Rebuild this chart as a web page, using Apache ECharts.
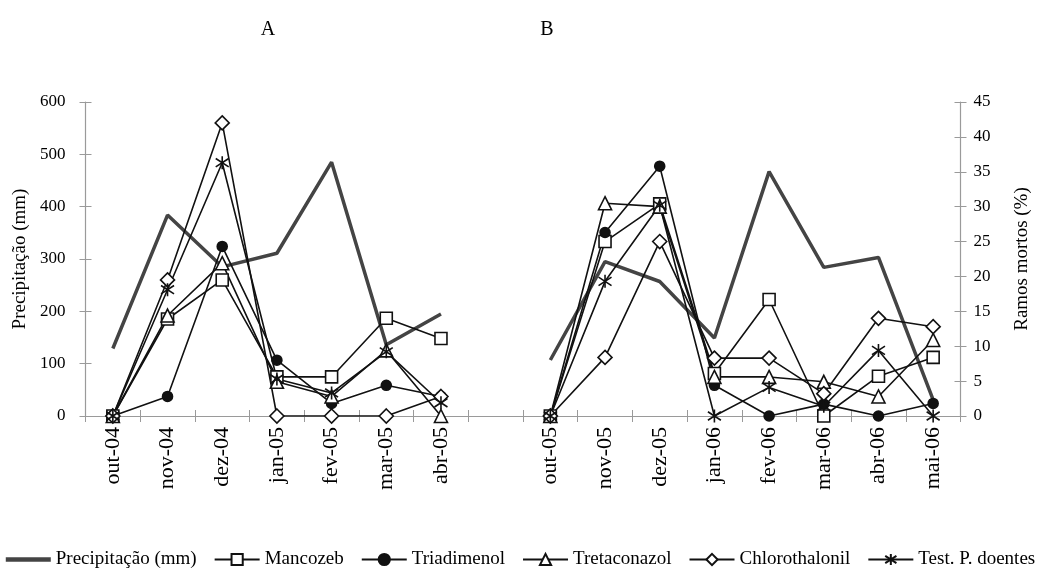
<!DOCTYPE html>
<html>
<head>
<meta charset="utf-8">
<script src="https://cdn.jsdelivr.net/npm/echarts@6/dist/echarts.min.js"></script>
<style>
html,body{margin:0;padding:0;background:#fff;}
#chart{width:1041px;height:569px;}
</style>
</head>
<body>
<div id="chart"></div>
<script>
// Categories (empty string = gap between panel A and panel B)
const categories = ['out-04','nov-04','dez-04','jan-05','fev-05','mar-05','abr-05','',
  'out-05','nov-05','dez-05','jan-06','fev-06','mar-06','abr-06','mai-06'];

// Left axis: Precipitação (mm)
const precipitacao = [129,384,285,311,485,136,195,null, 107,295,257,149,467,284,303,31];
// Right axis: Ramos mortos (%)
const mancozeb      = [0,13.9,19.5,5.6,5.6,14.0,11.1,null, 0,25.0,30.4,6.1,16.7,0,5.7,8.4];
const triadimenol   = [0,2.8,24.3,8.0,1.8,4.4,2.8,null, 0,26.3,35.8,4.4,0,1.7,0,1.8];
const tretaconazol  = [0,14.4,21.9,4.9,2.8,9.4,0,null, 0,30.5,30.0,5.6,5.6,4.9,2.8,10.9];
const chlorothalonil= [0,19.5,42.0,0,0,0,2.8,null, 0,8.4,25.0,8.3,8.3,3.2,14.0,12.8];
const testemunha    = [0,18.1,36.3,5.3,3.3,9.2,1.9,null, 0,19.3,30.2,0,4.1,1.4,9.4,0];

const leftTicks = {min:0, max:600, interval:100};
const rightTicks = {min:0, max:45, interval:5};

const FONT = "'Liberation Serif','DejaVu Serif',serif";
const AX = '#9a9a9a';

const chart = echarts.init(document.getElementById('chart'));

function pctSeries(name, data, symbol, size, filled) {
  return {
    name, type:'line', xAxisIndex:0, yAxisIndex:1, data,
    symbol, symbolSize:size, showAllSymbol:true, connectNulls:false,
    lineStyle:{color:'#111', width:1.6},
    itemStyle:{color: filled ? '#111' : '#fff', borderColor:'#111', borderWidth:1.6},
    emphasis:{disabled:true}, z:3
  };
}

const asterisk = 'path://M10,0L10,20M2.5,3.5L17.5,16.5M2.5,16.5L17.5,3.5';

chart.setOption({
  animation:false,
  backgroundColor:'#fff',
  textStyle:{fontFamily:FONT, color:'#000'},
  graphic:[
    {type:'text', x:268, y:30, style:{text:'A', font:"20px 'Liberation Serif',serif", fill:'#000', textAlign:'center', textVerticalAlign:'middle'}},
    {type:'text', x:547, y:30, style:{text:'B', font:"20px 'Liberation Serif',serif", fill:'#000', textAlign:'center', textVerticalAlign:'middle'}}
  ],
  grid:{left:85.5, right:80.5, top:102, bottom:153},
  legend:{
    top:545, left:'center', itemWidth:45, itemHeight:14, itemGap:17,
    textStyle:{fontFamily:FONT, fontSize:19, color:'#000'},
    data:[
      {name:'Precipitação (mm)', icon:'path://M0,0L40,0L40,4L0,4Z', itemStyle:{color:'#444'}},
      'Mancozeb','Triadimenol','Tretaconazol','Chlorothalonil','Test. P. doentes']
  },
  xAxis:[
    {type:'category', data:categories, boundaryGap:true,
     axisLine:{lineStyle:{color:AX, width:1.2}},
     axisTick:{show:true, interval:0, length:6, lineStyle:{color:AX}},
     axisLabel:{interval:0, rotate:90, margin:11, fontFamily:FONT, fontSize:22, color:'#000'}},
    {type:'category', data:categories, boundaryGap:true, position:'bottom',
     axisLine:{show:false},
     axisTick:{show:true, inside:true, interval:0, length:6, lineStyle:{color:AX}},
     axisLabel:{show:false}}
  ],
  yAxis:[
    {type:'value', position:'left', min:leftTicks.min, max:leftTicks.max, interval:leftTicks.interval,
     name:'Precipitação (mm)', nameLocation:'middle', nameRotate:90, nameGap:50,
     nameTextStyle:{fontFamily:FONT, fontSize:19, color:'#000'},
     axisLine:{show:true, lineStyle:{color:AX, width:1.2}},
     axisTick:{show:true, length:6, lineStyle:{color:AX}},
     axisLabel:{margin:20, fontFamily:FONT, fontSize:17, color:'#000'},
     splitLine:{show:false}},
    {type:'value', position:'right', min:rightTicks.min, max:rightTicks.max, interval:rightTicks.interval,
     name:'Ramos mortos (%)', nameLocation:'middle', nameRotate:90, nameGap:52,
     nameTextStyle:{fontFamily:FONT, fontSize:19, color:'#000'},
     axisLine:{show:true, lineStyle:{color:AX, width:1.2}},
     axisTick:{show:true, length:6, lineStyle:{color:AX}},
     axisLabel:{margin:13, fontFamily:FONT, fontSize:17, color:'#000'},
     splitLine:{show:false}},
    {type:'value', position:'left', min:leftTicks.min, max:leftTicks.max, interval:leftTicks.interval,
     axisLine:{show:false}, axisTick:{show:true, inside:true, length:6, lineStyle:{color:AX}},
     axisLabel:{show:false}, splitLine:{show:false}},
    {type:'value', position:'right', min:rightTicks.min, max:rightTicks.max, interval:rightTicks.interval,
     axisLine:{show:false}, axisTick:{show:true, inside:true, length:6, lineStyle:{color:AX}},
     axisLabel:{show:false}, splitLine:{show:false}}
  ],
  series:[
    {name:'Precipitação (mm)', type:'line', xAxisIndex:0, yAxisIndex:0, data:precipitacao,
     symbol:'none', connectNulls:false, color:'#444',
     lineStyle:{color:'#444', width:3.5}, emphasis:{disabled:true}, z:2},
    pctSeries('Mancozeb', mancozeb, 'rect', 12, false),
    pctSeries('Triadimenol', triadimenol, 'circle', 10, true),
    pctSeries('Tretaconazol', tretaconazol, 'triangle', 13, false),
    pctSeries('Chlorothalonil', chlorothalonil, 'diamond', 14, false),
    pctSeries('Test. P. doentes', testemunha, asterisk, 13, true)
  ]
});
</script>
</body>
</html>
